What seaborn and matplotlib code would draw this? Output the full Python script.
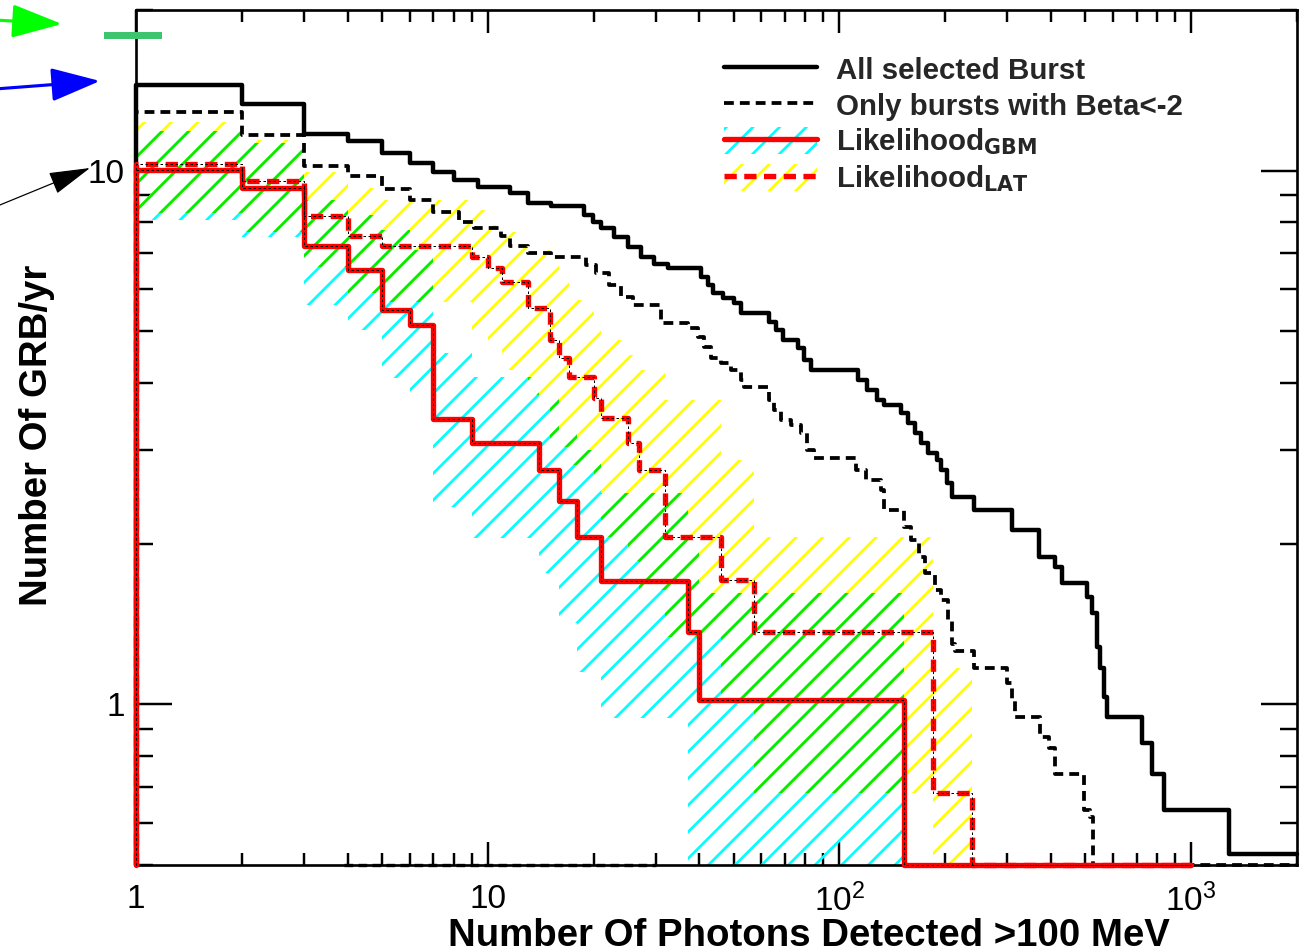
import numpy as np
import pandas as pd
import matplotlib
matplotlib.use("Agg")
import matplotlib.pyplot as plt
import seaborn as sns
from matplotlib.lines import Line2D
from matplotlib.patches import Patch, Rectangle, FancyArrowPatch
from matplotlib.ticker import LogLocator, NullFormatter, FixedLocator, FixedFormatter

# ---------------------------------------------------------------- data
# GRB rate per year as a function of the number of photons detected above 100 MeV.
# Each curve is a step histogram: *_edges are bin edges, *_rate the bin contents
# (a content of 0 means an empty bin).
all_edges = [1, 2, 3, 4, 5, 6, 7, 8, 9.4, 11.6, 13, 15.1, 18.8, 19.9, 21, 22.9, 25.1,
             27.3, 29.7, 32.6, 40.4, 42.3, 43.8, 46.7, 50.2, 52.6, 63.2, 66.2, 69.3,
             76.4, 79.5, 83.2, 113, 120, 127.5, 133.5, 150, 157, 164, 171, 179, 189,
             195, 202, 208.5, 242, 309, 369, 410, 429, 505, 522, 540, 551, 565, 576,
             725, 774, 838, 1283, 2000]
all_rate = [14.5, 13.34, 11.73, 11.35, 10.81, 10.35, 9.96, 9.62, 9.33, 9.09, 8.71, 8.60,
            8.27, 8.02, 7.82, 7.52, 7.20, 6.90, 6.69, 6.58, 6.33, 6.11, 5.90, 5.78, 5.65,
            5.42, 5.21, 5.03, 4.82, 4.66, 4.42, 4.23, 4.06, 3.88, 3.72, 3.64, 3.52, 3.37,
            3.22, 3.09, 2.96, 2.87, 2.75, 2.60, 2.45, 2.31, 2.12, 1.89, 1.81, 1.69, 1.59,
            1.48, 1.28, 1.17, 1.03, 0.945, 0.845, 0.742, 0.633, 0.525]

beta_edges = [1, 2, 3, 4, 5, 6, 7, 8.27, 9.12, 10.9, 11.6, 13.0, 15.1, 19.0, 20.3, 22.1,
              23.9, 25.9, 31.1, 37.1, 39.7, 41.3, 43.2, 46.1, 49.2, 52.6, 53.6, 63.2, 65.3,
              68.4, 73.0, 77.9, 81.1, 84.9, 111.8, 119.4, 131.7, 134.3, 153, 160, 168, 175,
              186.5, 195, 204, 208.5, 212.6, 242, 299, 309, 315, 371, 394, 410, 496, 516,
              526, 2000]
beta_rate = [12.87, 11.68, 10.19, 9.76, 9.25, 8.82, 8.38, 8.03, 7.82, 7.55, 7.23, 7.02,
             6.90, 6.66, 6.44, 6.11, 5.80, 5.61, 5.19, 5.08, 4.88, 4.68, 4.46, 4.36, 4.23,
             4.06, 3.93, 3.72, 3.56, 3.41, 3.34, 3.22, 3.00, 2.89, 2.75, 2.63, 2.52, 2.31,
             2.15, 2.03, 1.89, 1.76, 1.64, 1.57, 1.44, 1.30, 1.26, 1.17, 1.095, 1.02, 0.945,
             0.867, 0.830, 0.742, 0.633, 0.614, 0]
# empty low-count stretch of the Beta<-2 sample
beta_empty_span = [3.9, 30]

gbm_edges = [1, 2, 3, 4, 5, 6, 7, 9, 14, 16, 18, 21, 37, 40, 153, 1000]
gbm_rate = [10.01, 9.28, 7.21, 6.52, 5.49, 5.14, 3.42, 3.09, 2.75, 2.40, 2.06, 1.70,
            1.365, 1.02, 0]

lat_edges = [1, 2, 3, 4, 5, 9, 10, 11, 13, 15, 16, 17, 20, 21, 25, 27, 32, 46, 57, 185,
             238, 1000]
lat_rate = [10.31, 9.58, 8.24, 7.53, 7.21, 6.90, 6.58, 6.19, 5.53, 4.82, 4.46, 4.11,
            3.75, 3.44, 3.09, 2.75, 2.06, 1.71, 1.365, 0.681, 0]

# uncertainty bands
gbm_band_edges = [1, 2, 3, 4, 5, 6, 7, 9, 14, 16, 18, 21, 37, 40, 153]
gbm_band_hi = [11.89, 11.28, 8.82, 8.27, 7.75, 7.11, 4.56, 4.11, 3.78, 3.27, 3.00, 2.49,
               2.03, 1.62]
gbm_band_lo = [8.09, 7.52, 5.61, 5.03, 4.09, 3.83, 2.34, 2.05, 1.76, 1.42, 1.15, 0.941,
               0, 0]

lat_band_edges = [1, 2, 3, 4, 5, 9, 10, 11, 13, 15, 16, 17, 20, 21, 25, 27, 32, 46, 57,
                  185, 238]
lat_band_hi = [12.31, 11.43, 9.96, 9.29, 8.82, 8.45, 7.92, 7.69, 7.11, 6.81, 6.33, 5.73,
               5.32, 4.82, 4.52, 4.23, 3.72, 2.87, 2.06, 1.17]
lat_band_lo = [8.34, 7.69, 6.60, 5.90, 5.68, 5.03, 4.76, 4.23, 3.80, 3.04, 3.04, 2.81,
               2.69, 2.06, 1.86, 1.64, 1.34, 1.02, 0.681, 0]

x_tick_values = [1, 10, 100, 1000]
x_tick_labels = ["1", "10", r"$\mathregular{10^{2}}$", r"$\mathregular{10^{3}}$"]
y_tick_values = [1, 10]
y_tick_labels = ["1", "10"]

labels = ["All selected Burst", "Only bursts with Beta<-2",
          r"Likelihood$_{\mathbf{GBM}}$", r"Likelihood$_{\mathbf{LAT}}$"]

# ---------------------------------------------------------------- style
sns.set_theme(style="ticks")
plt.rcParams.update({
    "font.family": ["Liberation Sans Narrow", "Liberation Sans", "DejaVu Sans"],
    "mathtext.fontset": "custom",
    "mathtext.rm": "Liberation Sans Narrow",
    "mathtext.bf": "Liberation Sans Narrow:bold",
    "hatch.linewidth": 2.4,
    "axes.linewidth": 2.4,
    "axes.edgecolor": "black",
})

CYAN, YELLOW, GREEN, RED = "#00ffff", "#ffff00", "#00ee00", "#ff0000"
DASH = (0, (2.6, 1.6))
RDASH = (0, (2.3, 1.4))
XMIN, XMAX, YMIN, YMAX = 1, 2000, 0.5, 20

W, H, DPI = 1304, 952, 80
fig = plt.figure(figsize=(W / DPI, H / DPI), dpi=DPI, facecolor="white")
ax = fig.add_axes([136 / W, 1 - 865 / H, 1161 / W, 855 / H])
ax.set_xscale("log")
ax.set_yscale("log")
ax.set_xlim(XMIN, XMAX)
ax.set_ylim(YMIN, YMAX)


def stairs_frame(edges, rate):
    """Histogram outline: rises from the frame floor, empty bins sit on the floor."""
    x = np.asarray(edges, float)
    y = np.r_[np.asarray(rate, float), rate[-1]]
    y = np.where(y > 0, y, YMIN)
    return pd.DataFrame({"x": np.r_[x[0], x], "y": np.r_[YMIN, y]})


def band_arrays(edges, lo, hi):
    x = np.asarray(edges, float)
    lo = np.r_[np.asarray(lo, float), lo[-1]]
    hi = np.r_[np.asarray(hi, float), hi[-1]]
    lo = np.where(lo > 0, lo, YMIN * 0.5)
    return x, lo, hi


def step_lookup(edges, vals, x):
    idx = np.clip(np.searchsorted(edges, x, side="right") - 1, 0, len(vals) - 1)
    return np.asarray(vals, float)[idx]


# ---------------------------------------------------------------- bands
gx, glo, ghi = band_arrays(gbm_band_edges, gbm_band_lo, gbm_band_hi)
lx, llo, lhi = band_arrays(lat_band_edges, lat_band_lo, lat_band_hi)
hatch_kw = dict(step="post", facecolor="none", hatch="/", linewidth=0)
ax.fill_between(gx, glo, ghi, edgecolor=CYAN, zorder=1, **hatch_kw)
ax.fill_between(lx, llo, lhi, edgecolor=YELLOW, zorder=1.1, **hatch_kw)

# overlap of the two bands
x_end = min(gbm_band_edges[-1], lat_band_edges[-1])
ox = np.union1d(gbm_band_edges, lat_band_edges)
ox = ox[ox <= x_end]
left = ox[:-1]
g_lo = step_lookup(gbm_band_edges, glo[:-1], left)
g_hi = step_lookup(gbm_band_edges, ghi[:-1], left)
l_lo = step_lookup(lat_band_edges, llo[:-1], left)
l_hi = step_lookup(lat_band_edges, lhi[:-1], left)
o_lo = np.maximum(g_lo, l_lo)
o_hi = np.maximum(np.minimum(g_hi, l_hi), o_lo)
ax.fill_between(ox, np.r_[o_lo, o_lo[-1]], np.r_[o_hi, o_hi[-1]],
                edgecolor=GREEN, zorder=1.2, **hatch_kw)

# ---------------------------------------------------------------- histograms
line_kw = dict(x="x", y="y", estimator=None, sort=False, drawstyle="steps-post",
               clip_on=False, ax=ax)
sns.lineplot(data=stairs_frame(all_edges, all_rate), color="black", lw=4.0,
             zorder=3, **line_kw)
sns.lineplot(data=stairs_frame(beta_edges, beta_rate), color="black", lw=3.4,
             linestyle=DASH, zorder=3, **line_kw)
sns.lineplot(data=pd.DataFrame({"x": beta_empty_span, "y": [YMIN, YMIN]}),
             color="black", lw=3.0, linestyle=DASH, zorder=3, **line_kw)
sns.lineplot(data=stairs_frame(gbm_edges, gbm_rate), color=RED, lw=4.8,
             zorder=4, **line_kw)
sns.lineplot(data=stairs_frame(lat_edges, lat_rate), color=RED, lw=4.8,
             linestyle=RDASH, zorder=4, **line_kw)
for e, r in [(gbm_edges, gbm_rate), (lat_edges, lat_rate)]:
    sns.lineplot(data=stairs_frame(e, r), color="black", lw=0.9,
                 linestyle=(0, (2.5, 2.5)), zorder=5, **line_kw)

# ---------------------------------------------------------------- axes
ax.grid(False)
ax.xaxis.set_major_locator(FixedLocator(x_tick_values))
ax.xaxis.set_major_formatter(FixedFormatter(x_tick_labels))
ax.xaxis.set_minor_locator(LogLocator(base=10, subs=np.arange(2, 10), numticks=30))
ax.xaxis.set_minor_formatter(NullFormatter())
ax.yaxis.set_major_locator(FixedLocator(y_tick_values))
ax.yaxis.set_major_formatter(FixedFormatter(y_tick_labels))
ax.yaxis.set_minor_locator(LogLocator(base=10, subs=np.arange(2, 10), numticks=30))
ax.yaxis.set_minor_formatter(NullFormatter())
ax.tick_params(which="both", direction="in", top=True, right=True, color="black",
               width=2.2, labelsize=30, labelcolor="black")
ax.tick_params(axis="x", which="major", length=21, pad=17)
ax.tick_params(axis="x", which="minor", length=11)
ax.tick_params(axis="y", which="major", length=32, pad=10)
ax.tick_params(axis="y", which="minor", length=15)
for s in ax.spines.values():
    s.set_color("black")
    s.set_linewidth(2.4)

ax.set_xlabel("Number Of Photons Detected >100 MeV", fontsize=34.5, fontweight="bold",
              color="black")
ax.xaxis.label.set_horizontalalignment("right")
ax.xaxis.set_label_coords((1170 - 136) / 1161, (865 - 918) / 855)
ax.set_ylabel("Number Of GRB/yr", fontsize=34.5, fontweight="bold", color="black")
ax.yaxis.set_label_coords((55 - 136) / 1161, 0.503)

# ---------------------------------------------------------------- legend
handles = [
    Line2D([], [], color="black", lw=4.0),
    Line2D([], [], color="black", lw=3.4, linestyle=DASH),
    (Patch(facecolor="none", edgecolor=CYAN, hatch="/", linewidth=0),
     Line2D([], [], color=RED, lw=4.8)),
    (Patch(facecolor="none", edgecolor=YELLOW, hatch="/", linewidth=0),
     Line2D([], [], color=RED, lw=4.8, linestyle=RDASH)),
]
ax.legend(handles, labels, loc="upper left", bbox_to_anchor=(0.5064, 0.9468),
          frameon=False, borderpad=0, borderaxespad=0, handlelength=3.15,
          handleheight=1.05, handletextpad=0.65, labelspacing=0.2,
          prop={"weight": "bold", "size": 26.5})

# ---------------------------------------------------------------- margin markers
def fpos(px, py):
    return (px / W, 1 - py / H)


for tail, tip, col, lw, hl, hw in [
        ((-5, 20), (62, 24), "#00ff00", 2.8, 3.9, 1.3),
        ((-5, 89), (100, 81), "#0000ff", 2.8, 3.8, 1.3),
        ((-5, 207), (90, 168), "black", 1.1, 3.3, 0.9)]:
    fig.add_artist(FancyArrowPatch(
        fpos(*tail), fpos(*tip), transform=fig.transFigure,
        arrowstyle=f"-|>,head_length={hl},head_width={hw}", mutation_scale=10,
        color=col, lw=lw, shrinkA=0, shrinkB=0))
fig.add_artist(Rectangle(fpos(104, 39), 58 / W, 7 / H, transform=fig.transFigure,
                         color="#3cc46e", lw=0))

fig.savefig("out.png", dpi=DPI, facecolor="white")
